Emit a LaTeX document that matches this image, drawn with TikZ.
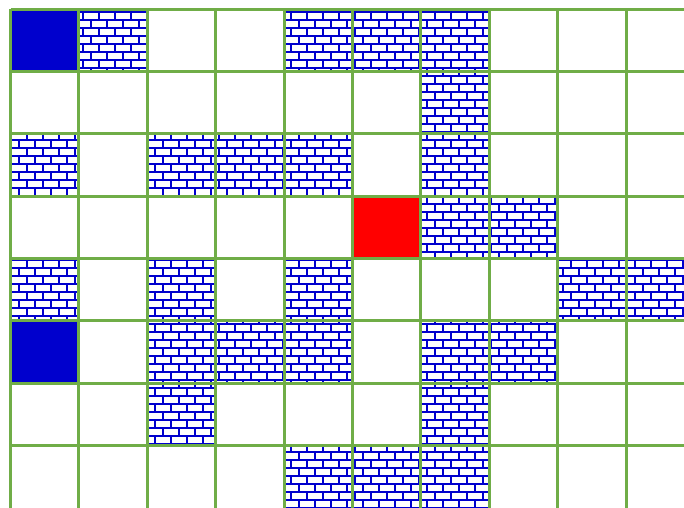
\documentclass[tikz,border=0pt]{standalone}
\definecolor{gridgreen}{HTML}{70AD47}
\definecolor{wallblue}{HTML}{0000CD}
\definecolor{goalred}{HTML}{FF0000}
\tikzset{
  gridline/.style={draw=gridgreen, line width=2.25pt},
  brickline/.style={draw=wallblue, line width=1.5pt},
  bluecell/.style={fill=wallblue},
  redcell/.style={fill=goalred},
}
\newcommand{\cellrect}[3]{% style, col, row
  \pgfmathsetmacro{\cxL}{10.5+68.4*#2}
  \pgfmathsetmacro{\cyT}{9.3+62.3*#3}
  \fill[#1] (\cxL,\cyT) rectangle ++(68.4,62.3);
}
\newcommand{\brickcell}[2]{% col, row
  \pgfmathsetmacro{\bxL}{10.5+68.4*#1}
  \pgfmathsetmacro{\byT}{9.3+62.3*#2}
  \pgfmathsetmacro{\bxR}{\bxL+68.4}
  \pgfmathsetmacro{\byB}{\byT+62.3}
  \pgfmathtruncatemacro{\bks}{floor((\byT-3.5)/8)}
  \pgfmathtruncatemacro{\bjs}{floor(\bxL/16)-1}
  \begin{scope}
    \clip (\bxL,\byT) rectangle (\bxR,\byB);
    \foreach \bi in {0,...,9}{
      \pgfmathsetmacro{\byy}{3.5+8*(\bks+\bi)}
      \pgfmathsetmacro{\boff}{mod(\bks+\bi,2)==1 ? 2.5 : 10.5}
      \draw[brickline] (\bxL,\byy) -- (\bxR,\byy);
      \foreach \bj in {0,...,6}{
        \pgfmathsetmacro{\bxx}{\boff+16*(\bjs+\bj)}
        \draw[brickline] (\bxx,\byy) -- (\bxx,\byy+8);
      }
    }
  \end{scope}
}
\begin{document}
\begin{tikzpicture}[x=0.75pt,y=-0.75pt]
\useasboundingbox (0,0) rectangle (684,507);
\fill[white] (0,0) rectangle (684,507);
\clip (0,0) rectangle (684,507);
% solid cells
\cellrect{bluecell}{0}{0}
\cellrect{bluecell}{0}{5}
\cellrect{redcell}{5}{3}
% brick walls
\foreach \c/\r in {1/0,4/0,5/0,6/0,
                   6/1,
                   0/2,2/2,3/2,4/2,6/2,
                   6/3,7/3,
                   0/4,2/4,4/4,8/4,9/4,
                   2/5,3/5,4/5,6/5,7/5,
                   2/6,6/6,
                   4/7,5/7,6/7}{
  \brickcell{\c}{\r}
}
% grid
\foreach \i in {0,...,10}{
  \draw[gridline] (10.5+68.4*\i,9.3) -- (10.5+68.4*\i,520);
}
\foreach \j in {0,...,7}{
  \draw[gridline] (10.5,9.3+62.3*\j) -- (700,9.3+62.3*\j);
}
\end{tikzpicture}
\end{document}
